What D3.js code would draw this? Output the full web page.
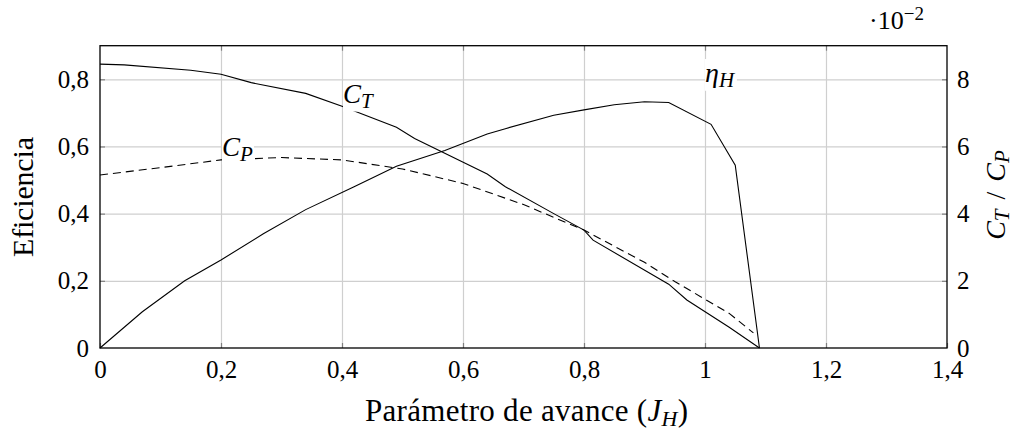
<!DOCTYPE html>
<html>
<head>
<meta charset="utf-8">
<script src="https://cdn.jsdelivr.net/npm/d3@7"></script>
<style>
  body { margin: 0; background: #fff; }
  svg { display: block; }
  text { font-family: "Liberation Serif", "Times New Roman", serif; fill: #000; }
</style>
</head>
<body>
<svg id="chart" width="1018" height="430"></svg>
<script>
// Hydrodynamic efficiency eta_H vs advance parameter J_H (left axis)
const etaJ = [0, 0.07, 0.14, 0.20, 0.27, 0.34, 0.42, 0.49, 0.57, 0.64, 0.67, 0.75, 0.80, 0.85, 0.90, 0.94, 1.01, 1.05, 1.09];
const eta  = [0, 0.108, 0.200, 0.262, 0.340, 0.412, 0.480, 0.541, 0.588, 0.637, 0.653, 0.693, 0.709, 0.724, 0.733, 0.731, 0.666, 0.544, 0];

// Thrust coefficient C_T (x 10^-2, right axis)
const ctJ = [0, 0.04, 0.15, 0.20, 0.25, 0.34, 0.40, 0.49, 0.52, 0.64, 0.67, 0.75, 0.80, 0.815, 0.94, 0.97, 1.04, 1.09];
const ct  = [8.45, 8.43, 8.27, 8.15, 7.90, 7.58, 7.20, 6.57, 6.24, 5.18, 4.80, 4.00, 3.51, 3.21, 1.90, 1.43, 0.62, 0];

// Power coefficient C_P (x 10^-2, right axis)
const cpJ = [0, 0.10, 0.20, 0.30, 0.40, 0.50, 0.60, 0.70, 0.80, 0.90, 0.95, 1.04, 1.08];
const cp  = [5.15, 5.37, 5.60, 5.67, 5.60, 5.33, 4.90, 4.27, 3.51, 2.55, 1.98, 1.03, 0.45];

// Axis ticks
const xTicks = [0, 0.2, 0.4, 0.6, 0.8, 1, 1.2, 1.4];
const leftTicks = [0, 0.2, 0.4, 0.6, 0.8];
const rightTicks = [0, 2, 4, 6, 8];

const svg = d3.select("#chart");
const L = 100, R = 947, T = 45.7, B = 348;
const W = R - L, H = B - T;

const x = d3.scaleLinear().domain([0, 1.4]).range([L, R]);
const yL = d3.scaleLinear().domain([0, 0.9]).range([B, T]);
const yR = d3.scaleLinear().domain([0, 9]).range([B, T]);

const fmt = d => String(+d.toFixed(2)).replace(".", ",");
const TICK_FONT = 25;

// Grid
const gridX = svg.append("g").attr("transform", `translate(0,${B})`)
  .call(d3.axisBottom(x).tickValues(xTicks.filter(v => v > 0 && v < 1.4)).tickSize(-H).tickFormat(""));
const gridY = svg.append("g").attr("transform", `translate(${L},0)`)
  .call(d3.axisLeft(yL).tickValues(leftTicks.filter(v => v > 0)).tickSize(-W).tickFormat(""));
[gridX, gridY].forEach(g => {
  g.select(".domain").remove();
  g.selectAll("line").attr("stroke", "#cfcfcf").attr("stroke-width", 1.2);
});

// Tick marks and labels
function styleAxis(g) {
  g.attr("font-family", null).attr("font-size", null);
  g.select(".domain").remove();
  g.selectAll("line").attr("stroke", "#808080").attr("stroke-width", 1.2);
  g.selectAll("text").attr("font-size", TICK_FONT).attr("font-family", "Liberation Serif");
}
const axB = svg.append("g").attr("transform", `translate(0,${B})`)
  .call(d3.axisBottom(x).tickValues(xTicks).tickSizeInner(-5).tickSizeOuter(0).tickPadding(12).tickFormat(fmt));
styleAxis(axB);
const axT = svg.append("g").attr("transform", `translate(0,${T})`)
  .call(d3.axisTop(x).tickValues(xTicks.filter(v => v > 0 && v < 1.4)).tickSizeInner(-5).tickSizeOuter(0).tickFormat(""));
styleAxis(axT);
const axL = svg.append("g").attr("transform", `translate(${L},0)`)
  .call(d3.axisLeft(yL).tickValues(leftTicks).tickSizeInner(-5).tickSizeOuter(0).tickPadding(11).tickFormat(fmt));
styleAxis(axL);
axL.selectAll(".tick").filter(d => d === 0).select("line").remove();
const axR = svg.append("g").attr("transform", `translate(${R},0)`)
  .call(d3.axisRight(yR).tickValues(rightTicks).tickSizeInner(-5).tickSizeOuter(0).tickPadding(10).tickFormat(d => d));
styleAxis(axR);
axR.selectAll(".tick").filter(d => d === 0).select("line").remove();

// Curves
const lineL = d3.line().x(d => x(d[0])).y(d => yL(d[1]));
const lineR = d3.line().x(d => x(d[0])).y(d => yR(d[1]));
const curves = svg.append("g").attr("fill", "none").attr("stroke", "#000").attr("stroke-width", 1.1);
curves.append("path").attr("d", lineL(d3.zip(etaJ, eta)));
curves.append("path").attr("d", lineR(d3.zip(ctJ, ct)));
curves.append("path").attr("d", lineR(d3.zip(cpJ, cp))).attr("stroke-dasharray", "8,5");

// Frame
svg.append("rect").attr("x", L).attr("y", T).attr("width", W).attr("height", H)
  .attr("fill", "none").attr("stroke", "#000").attr("stroke-width", 1.3);

// Curve labels with white background
function mathLabel(px, py, main, sub, size, subSize) {
  const g = svg.append("g");
  const t = g.append("text").attr("x", px).attr("y", py).attr("font-size", size).attr("font-style", "italic");
  t.append("tspan").text(main);
  t.append("tspan").attr("font-size", subSize).attr("dy", size * 0.17).text(sub);
  const bb = t.node().getBBox();
  g.insert("rect", "text").attr("x", bb.x).attr("y", bb.y + 2).attr("width", bb.width + 1).attr("height", bb.height - 3).attr("fill", "#fff");
  return g;
}
mathLabel(343, 103, "C", "T", 27, 21);
mathLabel(222, 156, "C", "P", 27, 21);
mathLabel(705, 82, "η", "H", 28, 21);

// Axis titles
svg.append("text").attr("transform", `translate(33,197) rotate(-90)`)
  .attr("text-anchor", "middle").attr("font-size", 30)
  .attr("textLength", 120).attr("lengthAdjust", "spacing").text("Eficiencia");

const xt = svg.append("text").attr("x", (L + R) / 2 + 3).attr("y", 421).attr("text-anchor", "middle").attr("font-size", 31)
  .attr("textLength", 323).attr("lengthAdjust", "spacing");
xt.append("tspan").text("Parámetro de avance (");
xt.append("tspan").attr("font-style", "italic").text("J");
xt.append("tspan").attr("font-style", "italic").attr("font-size", 22).attr("dy", 5).text("H");
xt.append("tspan").attr("dy", -5).text(")");

const rt = svg.append("text").attr("transform", `translate(1005,195) rotate(-90)`)
  .attr("text-anchor", "middle").attr("font-size", 28);
rt.append("tspan").attr("font-style", "italic").text("C");
rt.append("tspan").attr("font-style", "italic").attr("font-size", 21).attr("dy", 4).text("T");
rt.append("tspan").attr("dy", -4).attr("dx", 10).text("/");
rt.append("tspan").attr("font-style", "italic").attr("dx", 10).text("C");
rt.append("tspan").attr("font-style", "italic").attr("font-size", 21).attr("dy", 4).text("P");

// Scale factor of the right axis
const sc = svg.append("text").attr("x", 869).attr("y", 29).attr("font-size", 26);
sc.append("tspan").text("·10");
sc.append("tspan").attr("font-size", 19).attr("dy", -9).text("−2");
</script>
</body>
</html>
